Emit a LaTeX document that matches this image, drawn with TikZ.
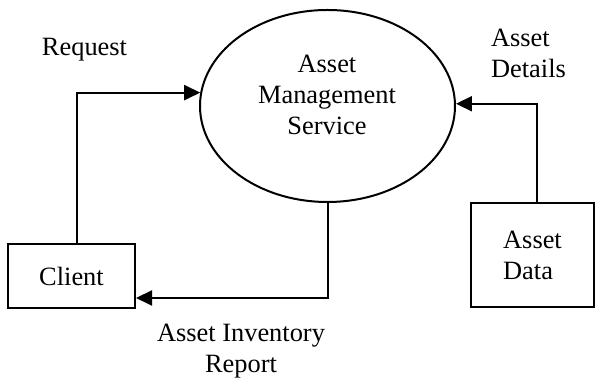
\documentclass[tikz,border=0pt]{standalone}
\usepackage{fontspec}
\setmainfont{Liberation Serif}
\usetikzlibrary{arrows.meta,shapes.geometric,positioning}

\begin{document}
\begin{tikzpicture}[x=0.5pt,y=-0.5pt,
    font=\fontsize{13.2}{15.5}\selectfont,
    flow/.style={line width=1pt,-{Triangle[length=8pt,width=7.5pt]}},
    store/.style={draw,line width=1pt,inner sep=0pt},
    process/.style={draw,ellipse,line width=1pt,inner sep=0pt,
                    minimum width=127.5pt,minimum height=96pt}]
    \useasboundingbox (0,0) rectangle (595,378);

    \node[process]                          (ams)     at (327.5,106) {};
    \node[align=center]                     (amstext) at (327,95)    {Asset\\Management\\Service};
    \node[store,minimum width=63.5pt,minimum height=32pt] (client) at (71.5,276) {Client};
    \node[store,align=left,minimum width=61.5pt,minimum height=52pt] (data) at (532.5,255) {Asset\\Data};

    \node                (request) at (84.5,50)  {Request};
    \node[align=left]    (details) at (528.5,53) {Asset\\Details};
    \node[align=center]  (report)  at (241,351)  {Asset Inventory\\Report};

    \draw[flow] ([xshift=2.75pt]client.north) |- (ams.174);
    \draw[flow] ([xshift=2.25pt]data.north)   |- (ams.1);
    \draw[flow] (ams.south) |- ([yshift=-11pt]client.east);
\end{tikzpicture}
\end{document}
